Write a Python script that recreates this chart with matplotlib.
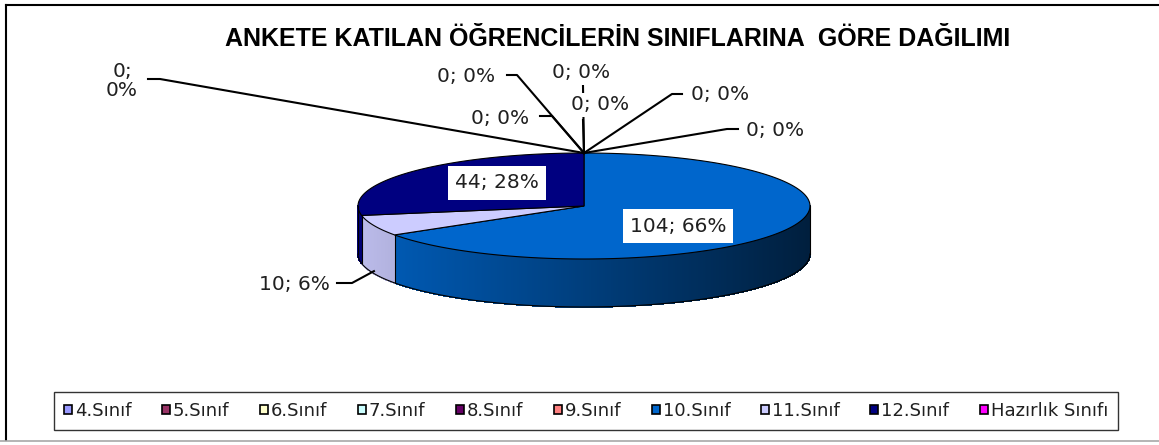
import numpy as np
import matplotlib
matplotlib.use("Agg")
import matplotlib.pyplot as plt
from matplotlib.patches import Polygon, Patch
from matplotlib.collections import PolyCollection

# data
categories = ["4.Sınıf", "5.Sınıf", "6.Sınıf", "7.Sınıf", "8.Sınıf", "9.Sınıf",
              "10.Sınıf", "11.Sınıf", "12.Sınıf", "Hazırlık Sınıfı"]
values = [0, 0, 0, 0, 0, 0, 104, 10, 44, 0]
colors = ["#9999FF", "#993366", "#FFFFCC", "#CCFFFF", "#660066", "#FF8080",
          "#0066CC", "#CCCCFF", "#000080", "#FF00FF"]
title = "ANKETE KATILAN ÖĞRENCİLERİN SINIFLARINA  GÖRE DAĞILIMI"

# layout (pixels)
W, H = 1159, 445
cx, cy, a, b, depth = 584, 206, 226, 53, 48
# label centre, leader start, leader elbow (None = inside label, no leader)
label_pos = [(122, 81), (466, 77), (500, 118), (581, 73), (600, 105), (720, 95),
             (678, 226), (294, 284), (497, 183), (775, 130)]
leader_start = [(148, 79), (507, 75), (540, 116), (583, 86), (583, 120), (682, 94),
                None, (337, 283), None, (738, 129)]
leader_elbow = [(160, 79), (517, 75), (552, 116), (583, 86), (583, 120), (672, 94),
                None, (352, 283), None, (727, 129)]

fig = plt.figure(figsize=(W / 100, H / 100), dpi=100)
ax = fig.add_axes([0, 0, 1, 1])
ax.set_xlim(0, W)
ax.set_ylim(H, 0)
ax.axis("off")


def pt(th, dz=0.0):
  t = np.radians(th)
  return cx + a * np.sin(t), cy - b * np.cos(t) + dz


def shade(col, x):
  s = (x - (cx - a)) / (2 * a)
  f = 0.92 - 0.62 * s
  rgb = np.array(matplotlib.colors.to_rgb(col)) * f
  return np.clip(rgb, 0, 1)


total = float(sum(values))
angles = np.concatenate([[0], np.cumsum(values) / total * 360])

# side walls (front half only)
for i, v in enumerate(values):
  lo, hi = max(angles[i], 90), min(angles[i + 1], 270)
  if v == 0 or hi <= lo:
    continue
  ths = np.linspace(lo, hi, int((hi - lo) * 2) + 2)
  quads, cols = [], []
  for t0, t1 in zip(ths[:-1], ths[1:]):
    quads.append([pt(t0), pt(t1), pt(t1, depth), pt(t0, depth)])
    cols.append(shade(colors[i], 0.5 * (pt(t0)[0] + pt(t1)[0])))
  ax.add_collection(PolyCollection(quads, facecolors=cols, edgecolors=cols,
                                   linewidths=0.6, antialiased=False, zorder=1))

# side outlines
ths = np.linspace(90, 270, 300)
bx, by = zip(*[pt(t, depth) for t in ths])
ax.plot(bx, by, color="black", lw=0.8, zorder=3)
for th in [90, 270] + [t for t in angles if 90 < t < 270]:
  x0, y0 = pt(th)
  ax.plot([x0, x0], [y0, y0 + depth], color="black", lw=0.8, zorder=3)

# top faces
for i, v in enumerate(values):
  if v == 0:
    continue
  ths = np.linspace(angles[i], angles[i + 1], 200)
  poly = [(cx, cy)] + [pt(t) for t in ths]
  ax.add_patch(Polygon(poly, closed=True, facecolor=colors[i],
                       edgecolor="black", lw=0.8, zorder=2))

# data labels and leaders
top = pt(0)
for i, v in enumerate(values):
  pct = round(100 * v / total)
  txt = "%d; %d%%" % (v, pct)
  if i == 0:
    txt = "%d;\n%d%%" % (v, pct)
  if leader_start[i] is not None:
    if v == 0:
      end = top
    else:
      mid = 0.5 * (angles[i] + angles[i + 1])
      end = pt(mid, depth * 0.95)
    xs = [leader_start[i][0], leader_elbow[i][0], end[0]]
    ys = [leader_start[i][1], leader_elbow[i][1], end[1]]
    ax.plot(xs, ys, color="black", lw=1.5, zorder=4)
  pad = 0.35 if v > 0 and leader_start[i] is None else 0.1
  ax.text(label_pos[i][0], label_pos[i][1], txt, ha="center", va="center",
          fontsize=14.5, family="DejaVu Sans", color="#202020",
          linespacing=1.0, zorder=5,
          bbox=dict(boxstyle="square,pad=%.2f" % pad, fc="white", ec="none"))

# title
ax.text(618, 39, title, ha="center", va="center", fontsize=18,
        fontweight="bold", family="Liberation Sans", color="black")

# legend
handles = [Patch(facecolor=c, edgecolor="black", lw=1.2) for c in colors]
leg = ax.legend(handles, categories, loc="center", ncol=10,
                bbox_to_anchor=(586, 411), bbox_transform=ax.transData,
                prop={"family": "DejaVu Sans", "size": 13},
                handlelength=0.45, handleheight=0.45, handletextpad=0.15,
                columnspacing=1.7, borderpad=0.55, borderaxespad=0,
                fancybox=False, frameon=True)
leg.get_frame().set_edgecolor("black")
leg.get_frame().set_linewidth(1.0)
for t in leg.get_texts():
  t.set_color("#202020")

# chart frame
ax.plot([6, W], [5, 5], color="black", lw=1.5, zorder=6)
ax.plot([6, 6], [5, 440], color="black", lw=1.5, zorder=6)
ax.plot([0, W], [441, 441], color="#a8a8a8", lw=1.2, zorder=6)

fig.savefig("out.png", dpi=100)
